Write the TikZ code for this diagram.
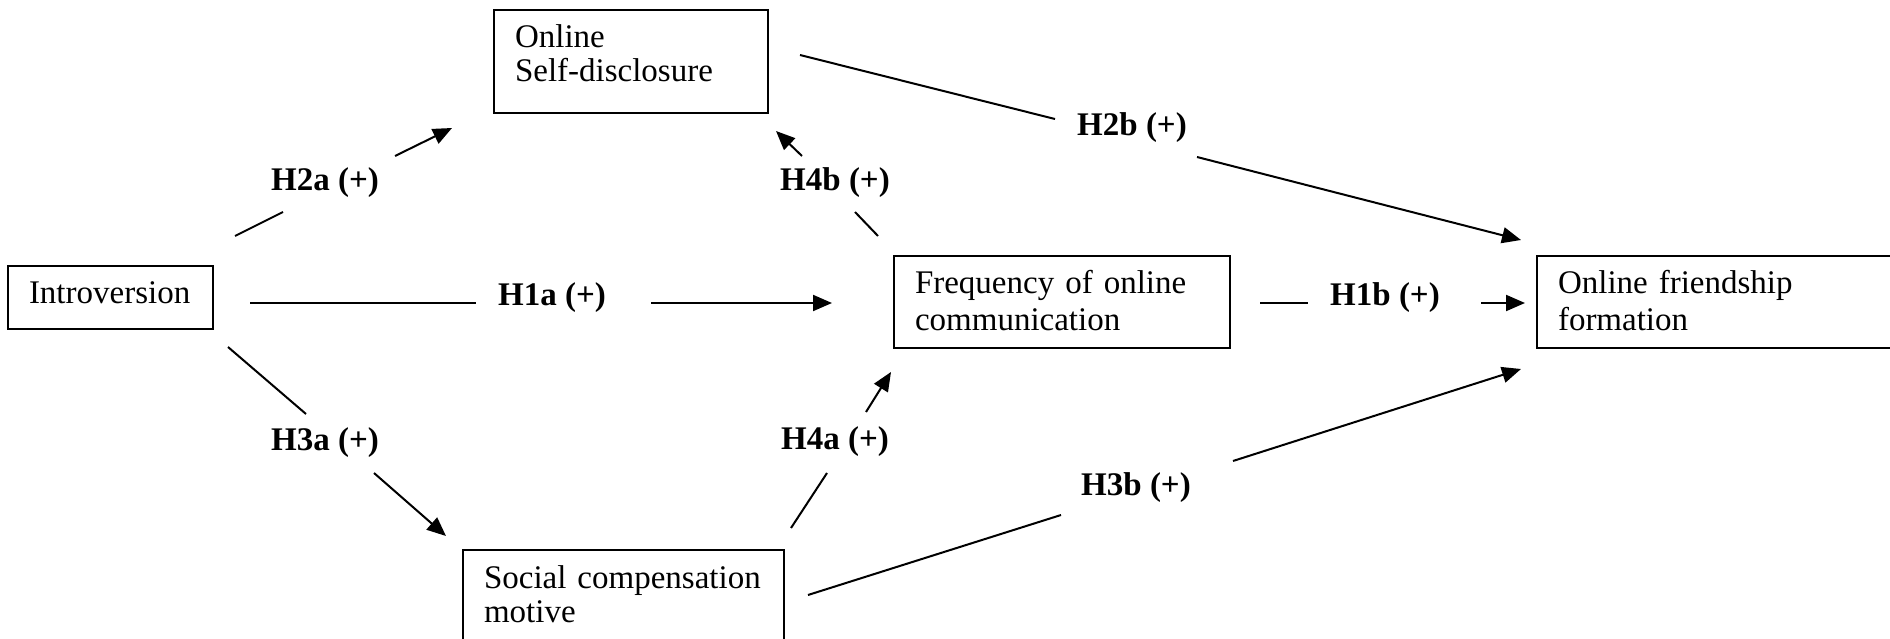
\documentclass[tikz,border=0pt]{standalone}
\usepackage{fontspec}
\setmainfont{Liberation Serif}
\usetikzlibrary{arrows.meta}
\tikzset{
  box/.style={draw, line width=2.5pt, anchor=north west, align=left,
    inner xsep=21pt, inner ysep=0pt, outer sep=0pt},
  lbl/.style={font=\fontsize{33}{36}\selectfont\bfseries, inner sep=0pt},
  conn/.style={line width=2pt},
  arr/.style={conn, -{Triangle[length=19pt,width=16pt]}}
}
\begin{document}
\begin{tikzpicture}[x=1pt,y=-1pt]
\useasboundingbox (0,0) rectangle (1890,639);
\fill[white] (0,0) rectangle (1890,639);

% boxes
\node[box, font=\fontsize{33}{34}\selectfont, text width=232pt, text height=38pt, text depth=65pt] (osd) at (494,10) {Online\\Self-disclosure};
\node[box, font=\fontsize{33}{34}\selectfont, text width=163pt, text height=37pt, text depth=26pt] (intro) at (8,266) {Introversion};
\node[box, font=\fontsize{33}{37}\selectfont, text width=294pt, text height=37pt, text depth=55pt] (freq) at (894,256) {Frequency of online\\communication};
\node[box, font=\fontsize{33}{37}\selectfont, text width=321pt, text height=37pt, text depth=55pt] (friend) at (1537,256) {Online friendship\\formation};
\node[box, font=\fontsize{33}{34}\selectfont, text width=279pt, text height=38pt, text depth=52pt] (social) at (463,550) {Social compensation\\motive};

% labels
\node[lbl] (h2a) at (325,183) {H2a (+)};
\node[lbl] (h4b) at (835,183) {H4b (+)};
\node[lbl] (h1a) at (552,298) {H1a (+)};
\node[lbl] (h2b) at (1132,128) {H2b (+)};
\node[lbl] (h1b) at (1385,298) {H1b (+)};
\node[lbl] (h3a) at (325,443) {H3a (+)};
\node[lbl] (h4a) at (835,442) {H4a (+)};
\node[lbl] (h3b) at (1136,488) {H3b (+)};

% connector end points
\coordinate (h2a1) at (235,236); \coordinate (h2a2) at (283,212);
\coordinate (h2a3) at (395,156); \coordinate (h2a4) at (452,128);
\coordinate (h4b1) at (878,236); \coordinate (h4b2) at (855,212);
\coordinate (h4b3) at (802,156); \coordinate (h4b4) at (776,131);
\coordinate (h1a1) at (250,303); \coordinate (h1a2) at (476,303);
\coordinate (h1a3) at (651,303); \coordinate (h1a4) at (832,303);
\coordinate (h2b1) at (800,55);  \coordinate (h2b2) at (1055,119);
\coordinate (h2b3) at (1197,157); \coordinate (h2b4) at (1521,240);
\coordinate (h1b1) at (1260,303); \coordinate (h1b2) at (1308,303);
\coordinate (h1b3) at (1481,303); \coordinate (h1b4) at (1525,303);
\coordinate (h3a1) at (228,347); \coordinate (h3a2) at (306,414);
\coordinate (h3a3) at (374,473); \coordinate (h3a4) at (446,536);
\coordinate (h4a1) at (791,528); \coordinate (h4a2) at (827,473);
\coordinate (h4a3) at (866,412); \coordinate (h4a4) at (891,372);
\coordinate (h3b1) at (808,595); \coordinate (h3b2) at (1061,515);
\coordinate (h3b3) at (1233,461); \coordinate (h3b4) at (1521,369);

% connectors
\draw[conn] (h2a1) -- (h2a2); \draw[arr] (h2a3) -- (h2a4);
\draw[conn] (h4b1) -- (h4b2); \draw[arr] (h4b3) -- (h4b4);
\draw[conn] (h1a1) -- (h1a2); \draw[arr] (h1a3) -- (h1a4);
\draw[conn] (h2b1) -- (h2b2); \draw[arr] (h2b3) -- (h2b4);
\draw[conn] (h1b1) -- (h1b2); \draw[arr] (h1b3) -- (h1b4);
\draw[conn] (h3a1) -- (h3a2); \draw[arr] (h3a3) -- (h3a4);
\draw[conn] (h4a1) -- (h4a2); \draw[arr] (h4a3) -- (h4a4);
\draw[conn] (h3b1) -- (h3b2); \draw[arr] (h3b3) -- (h3b4);
\end{tikzpicture}
\end{document}
